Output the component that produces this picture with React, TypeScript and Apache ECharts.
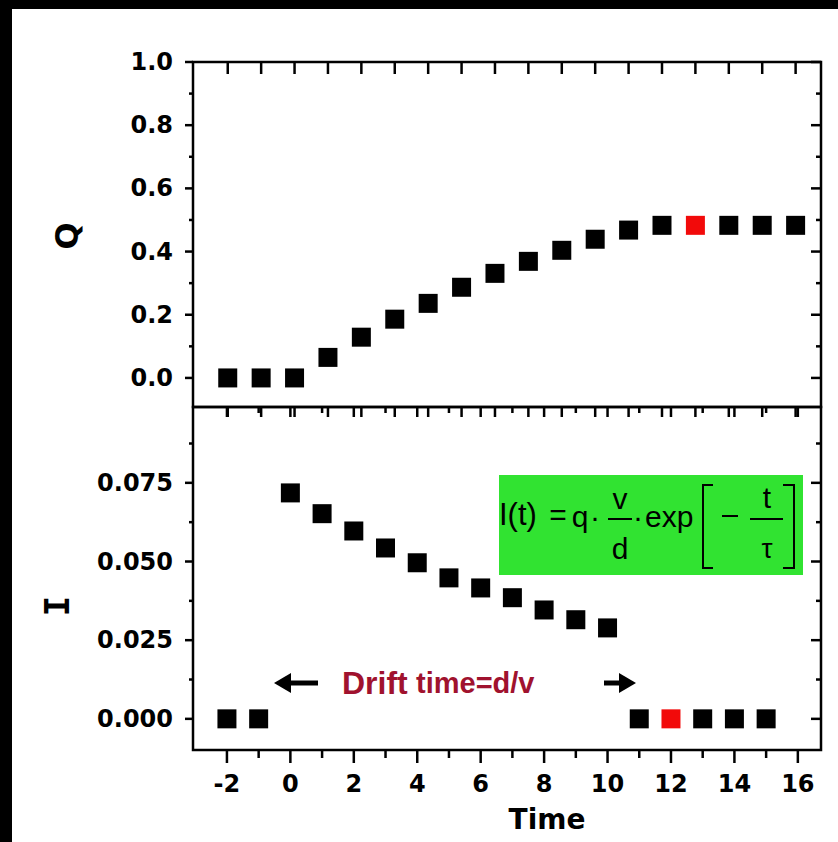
import React, { useEffect, useRef } from "react";
import * as echarts from "echarts";

// ---- data ----
const qIndex = [0, 1, 2, 3, 4, 5, 6, 7, 8, 9, 10, 11, 12, 13, 14, 15, 16, 17];
const qValues = [0, 0, 0, 0.065, 0.129, 0.186, 0.236, 0.287, 0.331, 0.369, 0.404, 0.439, 0.468, 0.483, 0.483, 0.483, 0.483, 0.483];
const qRedIndex = 14;

const iTimes = [-2, -1, 0, 1, 2, 3, 4, 5, 6, 7, 8, 9, 10, 11, 12, 13, 14, 15];
const iValues = [0, 0, 0.0718, 0.0652, 0.0597, 0.0543, 0.0496, 0.0448, 0.0416, 0.0385, 0.0346, 0.0315, 0.0289, 0, 0, 0, 0, 0];
const iRedTime = 12;

const xLabelValues = [-2, 0, 2, 4, 6, 8, 10, 12, 14, 16];
const xMinorValues = [-1, 1, 3, 5, 7, 9, 11, 13, 15];
const qLabelValues = [0, 0.2, 0.4, 0.6, 0.8, 1.0];
const qMinorValues = [0.1, 0.3, 0.5, 0.7, 0.9];
const iLabelValues = [0, 0.025, 0.05, 0.075];
const iMinorValues = [0.0125, 0.0375, 0.0625, 0.0875];

const FONT = '"DejaVu Sans", Verdana, sans-serif';
const AFONT = '"Liberation Sans", Arial, sans-serif';
const LW = 2.5;

function labelAxis(opts: any) {
  const { gridIndex, position, min, max, labelValues, formatter, labelMargin = 20 } = opts;
  return {
    type: "value",
    gridIndex,
    position,
    min,
    max,
    splitLine: { show: false },
    axisLine: { show: false, onZero: false },
    axisTick: { show: false },
    axisLabel: labelValues
      ? {
          show: true,
          customValues: labelValues.slice(),
          formatter,
          margin: labelMargin,
          color: "#000",
          fontFamily: FONT,
          fontWeight: "bold",
          fontSize: 24,
        }
      : { show: false },
  };
}

// one custom series per panel side; each item = [x, y, dx, dy]
function tickSeries(gridIdx: number, items: number[][]) {
  return {
    type: "custom",
    xAxisIndex: gridIdx,
    yAxisIndex: gridIdx,
    silent: true,
    clip: false,
    z: 5,
    dimensions: ["x", "y", "dx", "dy"],
    encode: { x: 0, y: 1 },
    data: items,
    renderItem: (_params: any, api: any) => {
      const p = api.coord([api.value(0), api.value(1)]);
      const dx = api.value(2);
      const dy = api.value(3);
      return {
        type: "polyline",
        shape: { points: [[p[0], p[1]], [p[0] + dx, p[1] + dy]] },
        style: { stroke: "#000", lineWidth: LW, fill: null },
      };
    },
  };
}

export default function App() {
  const ref = useRef<HTMLDivElement>(null);

  useEffect(() => {
    if (!ref.current) return;
    const chart = echarts.init(ref.current, undefined, { renderer: "svg", width: 838, height: 842 });

    const qXmin = -1.04, qXmax = 17.76;
    const iXmin = -3.07, iXmax = 16.73;
    const qYmin = -0.092, qYmax = 1.0;
    const iYmin = -0.0099, iYmax = 0.0991;

    const xT = (vals: number[], at: number, dy: number) => vals.map((v) => [v, at, 0, dy]);
    const yT = (vals: number[], at: number, dx: number) => vals.map((v) => [at, v, dx, 0]);

    const topTicks = [
      ...xT(qIndex, qYmax, 12),
      ...xT(qIndex, qYmin, 10),
      ...yT(qMinorValues, qXmin, -4),
      ...yT(qLabelValues, qXmin, -8),
      ...yT(qMinorValues, qXmax, -5),
      ...yT(qLabelValues, qXmax, -10),
    ];
    const botTicks = [
      ...xT(xMinorValues, iYmin, 8),
      ...xT(xLabelValues, iYmin, 13),
      ...xT(xMinorValues, iYmax, 6),
      ...xT(xLabelValues, iYmax, 10),
      ...yT(iMinorValues, iXmin, -4),
      ...yT(iLabelValues, iXmin, -8),
      ...yT(iMinorValues, iXmax, -5),
      ...yT(iLabelValues, iXmax, -10),
    ];

    const txt = (x: number, y: number, text: string, font: string, extra: any = {}) => ({
      type: "text",
      x,
      y,
      z: 100,
      ...extra,
      style: { text, font, fill: extra.fill || "#000", align: extra.align || "center", verticalAlign: "middle" },
    });
    const ln = (x1: number, y1: number, x2: number, y2: number, w = 2) => ({
      type: "line",
      z: 100,
      shape: { x1, y1, x2, y2 },
      style: { stroke: "#000", lineWidth: w },
    });

    const border = { show: true, borderColor: "#000", borderWidth: LW, backgroundColor: "transparent", outerBoundsMode: "none" };

    const option: any = {
      animation: false,
      backgroundColor: "transparent",
      grid: [
        { left: 193, top: 62, width: 628, height: 345, ...border },
        { left: 193, top: 407, width: 628, height: 343, ...border },
      ],
      xAxis: [
        labelAxis({ gridIndex: 0, position: "bottom", min: qXmin, max: qXmax }),
        labelAxis({
          gridIndex: 1, position: "bottom", min: iXmin, max: iXmax,
          labelValues: xLabelValues, formatter: (v: number) => String(v), labelMargin: 22,
        }),
      ],
      yAxis: [
        labelAxis({
          gridIndex: 0, position: "left", min: qYmin, max: qYmax,
          labelValues: qLabelValues, formatter: (v: number) => v.toFixed(1),
        }),
        labelAxis({
          gridIndex: 1, position: "left", min: iYmin, max: iYmax,
          labelValues: iLabelValues, formatter: (v: number) => v.toFixed(3),
        }),
      ],
      series: [
        tickSeries(0, topTicks),
        tickSeries(1, botTicks),
        {
          type: "scatter",
          xAxisIndex: 0,
          yAxisIndex: 0,
          symbol: "rect",
          symbolSize: 19,
          itemStyle: { color: "#000", opacity: 1 },
          data: qIndex.map((x, k) => ({
            value: [x, qValues[k]],
            itemStyle: x === qRedIndex ? { color: "#f20a0a" } : undefined,
          })),
        },
        {
          type: "scatter",
          xAxisIndex: 1,
          yAxisIndex: 1,
          symbol: "rect",
          symbolSize: 19,
          itemStyle: { color: "#000", opacity: 1 },
          data: iTimes.map((x, k) => ({
            value: [x, iValues[k]],
            itemStyle: x === iRedTime ? { color: "#f20a0a" } : undefined,
          })),
        },
      ],
      graphic: [
        txt(67, 236, "Q", `bold 32px ${FONT}`, { rotation: Math.PI / 2 }),
        txt(57, 606, "I", `bold 34px "DejaVu Sans Mono", monospace`, { rotation: Math.PI / 2 }),
        txt(547, 819, "Time", `bold 28px ${FONT}`),
        { type: "rect", z: 99, shape: { x: 499, y: 475, width: 304, height: 100 }, style: { fill: "#31e331" } },
        txt(499, 514, "I(t)", `31px ${AFONT}`, { align: "left" }),
        txt(558, 514, "=", `30px ${AFONT}`),
        txt(580, 516, "q", `30px ${AFONT}`),
        txt(595, 516, "·", `30px ${AFONT}`),
        txt(620, 498, "v", `30px ${AFONT}`),
        ln(608, 519, 632, 519),
        txt(620, 548, "d", `30px ${AFONT}`),
        txt(638, 516, "·", `30px ${AFONT}`),
        txt(645, 516, "exp", `30px ${AFONT}`, { align: "left" }),
        {
          type: "polyline", z: 100,
          shape: { points: [[713, 485], [703, 485], [703, 568], [713, 568]] },
          style: { stroke: "#000", lineWidth: 2, fill: null },
        },
        ln(722, 516, 738, 516),
        txt(767, 497, "t", `30px ${AFONT}`),
        ln(750, 519, 783, 519),
        txt(767, 548, "τ", `28px ${AFONT}`),
        {
          type: "polyline", z: 100,
          shape: { points: [[783, 485], [794, 485], [794, 568], [783, 568]] },
          style: { stroke: "#000", lineWidth: 2, fill: null },
        },
        ln(287, 683, 318, 683, 5),
        { type: "polygon", z: 100, shape: { points: [[274, 683], [291, 673], [291, 693]] }, style: { fill: "#000" } },
        txt(342, 683, "Drift", `bold 32px ${AFONT}`, { align: "left", fill: "#a0122e" }),
        txt(416, 683, "time=d/v", `bold 29px ${AFONT}`, { align: "left", fill: "#a0122e" }),
        ln(604, 683, 622, 683, 5),
        { type: "polygon", z: 100, shape: { points: [[636, 683], [619, 673], [619, 693]] }, style: { fill: "#000" } },
      ],
    };

    chart.setOption(option);
    return () => chart.dispose();
  }, []);

  return (
    <div style={{ position: "fixed", left: 0, top: 0, width: 838, height: 842, background: "#000", overflow: "hidden" }}>
      <div style={{ position: "absolute", left: 12, top: 9, width: 826, height: 833, background: "#fff" }} />
      <div ref={ref} style={{ position: "absolute", left: 0, top: 0, width: 838, height: 842 }} />
    </div>
  );
}
